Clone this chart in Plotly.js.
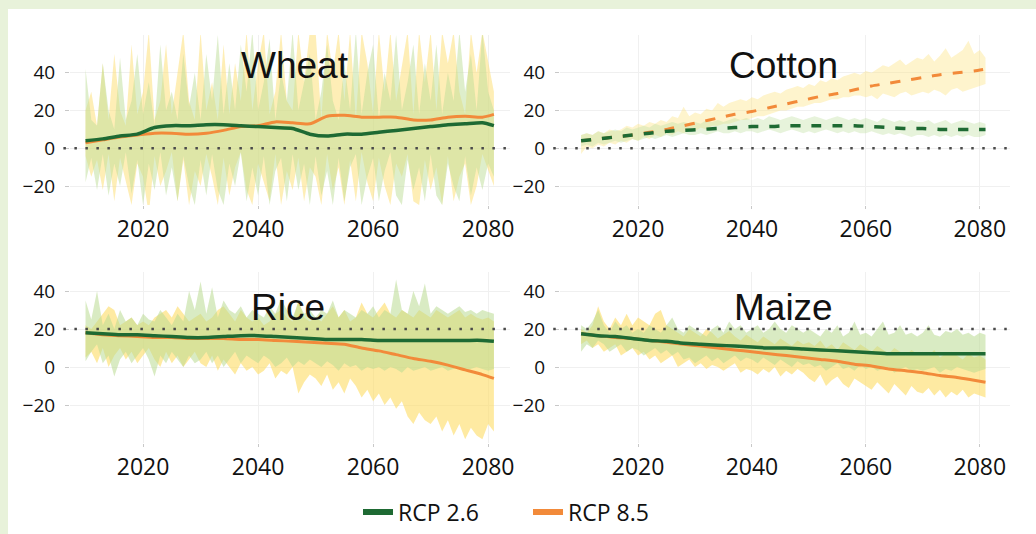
<!DOCTYPE html>
<html><head><meta charset="utf-8">
<script src="https://cdn.plot.ly/plotly-3.0.1.min.js"></script>
<style>html,body{margin:0;padding:0;background:#e8f2da;}#chart{width:1036px;height:534px;}</style>
</head><body><div id="chart"></div>
<script>
// ---- data ----
const years = [];
for (let y = 2010; y <= 2081; y++) years.push(y);
const meanYears = [2010,2013,2016,2019,2022,2025,2028,2031,2034,2037,2040,2043,2046,2049,2052,2055,2058,2061,2064,2067,2070,2073,2076,2079,2081];
const crops = ["Wheat","Cotton","Rice","Maize"];
const scenarios = ["RCP 2.6","RCP 8.5"];
const xTicks = [2020,2040,2060,2080];
const yTicks = [-20,0,20,40];
const refLine = [0,0,20,20];

// Wheat
const wheatMean26 = [4,5,6.5,7.5,11,12,12,12.5,12.5,12,11.5,11,10.5,7.5,6.5,7.5,7.5,8.5,9.5,10.5,11.5,12.5,13,13.5,12];
const wheatMean85 = [3,4.5,6,7,8,8,7.5,8,9.5,11.5,12,14,13.5,13,17,17.5,16.5,16.5,16.5,15,15,16.5,17,16.5,18];
const wheatUp26 = [42,15,12,45,20,10,48,15,25,50, 18,35,12,55,20,30,15,50,22,40, 15,50,25,60,18,45,20,55,30,62, 20,35,58,15,40,25,62,20,35,50, 15,30,55,25,15,45,20,62,18,40, 55,15,40,25,60,20,35,55,18,45, 25,55,18,40,25,62,30,50,20,62, 30,20];
const wheatLo26 = [-18,-5,-22,-3,-25,-8,-20,-2,-24,-6, -30,-8,-22,-2,-25,-10,-28,-4,-20,-30, -6,-25,-3,-22,-30,-8,-20,-2,-28,-10, -25,-4,-30,-12,-5,-28,-3,-22,-8,-30, -4,-25,-12,-30,-5,-28,-10,-3,-30,-15, -5,-28,-12,-2,-25,-30,-6,-22,-10,-28, -3,-25,-30,-8,-20,-28,-4,-25,-10,-22, -8,-15];
const wheatUp85 = [20,30,12,45,15,50,20,12,55,18, 30,62,15,25,55,18,40,62,25,15, 62,20,35,15,55,18,45,25,62,20, 45,62,18,30,62,25,20,62,35,62, 62,15,62,40,62,25,62,15,62,45, 18,62,30,62,25,45,62,18,62,35, 62,20,62,45,62,30,18,62,40,62, 45,30];
const wheatLo85 = [-4,-15,-6,-22,-3,-28,-5,-18,-30,-8, -15,-35,-4,-20,-12,-2,-28,-6,-30,-12, -20,-3,-15,-30,-5,-25,-10,-2,-22,-30, -8,-18,-28,-3,-30,-12,-22,-5,-28,-10, -15,-30,-3,-22,-10,-30,-6,-28,-2,-18, -28,-5,-20,-30,-8,-15,-3,-28,-30,-6, -22,-10,-30,-4,-28,-15,-8,-30,-20,-3, -12,-20];

// Cotton
const cottonMean26 = [4,5,6,7,8,9,9.5,10,10.5,11,11.5,11.5,12,12,12,12,12,11.5,11,10.5,10.5,10,10,10,10];
const cottonMean85 = [4,5,6,7,8.5,10,12,14,16,18,19.5,21.5,23.5,25.5,27.5,29,31,33,34.5,36,37.5,39,40,41,42];
const cottonUp26 = [7,8,7,9,8,9,10,9,11,10, 11,12,11,13,12,13,14,13,14,13, 14,13,15,14,15,14,15,16,15,16, 15,16,15,17,16,15,16,17,16,15, 16,17,16,15,16,17,16,15,16,15, 16,15,14,16,15,14,15,14,15,14, 14,15,13,14,15,13,14,15,14,13, 14,13];
const cottonLo26 = [1,2,1,3,2,3,4,3,4,5, 4,5,6,5,6,7,6,7,8,7, 7,8,7,8,9,8,8,9,8,9, 9,8,9,10,9,8,9,10,9,8, 9,8,9,10,9,8,9,8,9,8, 8,9,8,7,8,7,8,7,6,7, 7,6,7,6,7,6,7,6,7,6, 6,7];
const cottonUp85 = [7,8,7,9,8,10,9,10,12,11, 13,12,14,13,15,14,17,16,22,17, 19,18,21,20,24,22,24,25,26,25, 27,26,28,29,30,29,31,32,33,32, 34,33,36,35,37,36,38,39,40,39, 41,40,42,44,43,45,47,44,46,48, 47,50,46,49,53,48,50,52,57,50, 52,48];
const cottonLo85 = [-3,1,0,2,1,3,2,4,3,5, 4,6,5,7,6,8,7,9,8,10, 9,11,10,12,12,13,13,14,15,15, 16,17,17,18,19,20,20,21,22,22, 23,24,24,25,26,26,27,27,28,28, 27,28,26,29,28,27,29,30,28,29, 30,29,31,30,28,31,32,30,31,32, 33,34];

// Rice
const riceMean26 = [18,17.5,17,17,16.5,16,15.5,15.5,16,16.5,16.5,16,15.5,15,14.5,14.5,14.5,14,14,14,14,14,14,14,13.5];
const riceMean85 = [18,17,16.5,16,15.5,15.5,15,15,15,14.5,14.5,14,13.5,13,12.5,12,10,8.5,6.5,4.5,3,1,-1.5,-4,-6];
const riceUp26 = [35,25,40,22,28,20,30,24,26,22, 28,25,24,30,26,22,28,24,40,30, 45,28,42,26,35,30,28,32,26,30, 28,26,32,28,36,30,26,34,28,30, 26,30,28,35,26,30,28,26,30,28, 32,26,30,28,46,30,28,40,32,44, 28,32,30,28,30,32,29,30,28,30, 29,28];
const riceLo26 = [3,8,12,2,6,-5,4,8,2,6, 10,4,-5,6,2,8,4,0,6,2, 4,8,2,6,0,4,8,2,6,4, 2,6,4,0,2,5,0,3,1,4, 2,0,3,1,-2,2,0,1,-2,0, -1,0,-2,0,-1,-3,0,-2,-1,0, -2,-1,0,-2,-1,0,-2,-1,0,-1, -2,-1];
const riceUp85 = [22,20,24,28,32,30,22,24,26,22, 24,22,26,28,30,26,32,28,24,26, 28,24,26,30,32,28,24,30,26,24, 26,22,24,28,30,26,24,35,26,24, 26,24,28,32,26,30,24,26,34,28, 26,30,34,28,26,30,28,26,30,28, 26,30,28,26,28,30,26,28,26,25, 26,24];
const riceLo85 = [5,8,2,10,0,6,10,4,8,2, 6,10,4,0,8,2,6,0,4,8, 2,0,6,-2,4,0,-4,2,-2,0, -4,-2,2,-6,-2,-4,0,-14,-8,-4, -6,-10,-4,-12,-8,-14,-6,-10,-16,-12, -18,-14,-20,-16,-22,-18,-26,-30,-24,-28, -30,-26,-34,-28,-36,-30,-38,-32,-36,-38, -30,-34];

// Maize
const maizeMean26 = [17.5,16.5,16,15,14,13.5,12.5,12,11.5,11,10.5,10,10,9.5,9,8.5,8,7.5,7,7,7,7,7,7,7];
const maizeMean85 = [17.5,16.5,15.5,15,14,13,12,11,10,9,8,7,6,5,4,3,1.5,0.5,-1,-2,-3,-4.5,-5.5,-7,-8];
const maizeUp26 = [22,20,24,30,22,18,24,20,22,18, 20,18,22,20,18,22,26,20,18,22, 20,18,16,20,22,18,24,20,22,18, 20,22,18,20,24,20,18,22,20,18, 20,18,16,20,18,22,16,18,24,17, 18,16,20,24,17,18,22,17,18,16, 18,22,17,16,19,18,20,17,18,16, 18,17];
const maizeLo26 = [8,12,10,14,12,8,10,12,8,10, 9,6,8,10,7,9,6,8,4,5, 2,4,6,3,5,2,4,6,3,5, 4,2,5,3,1,4,2,0,3,1, 2,0,1,-2,0,2,-1,0,-2,1, -1,0,-2,-1,0,-3,-1,0,-2,-1, -2,-1,0,-3,-1,-2,0,-1,-2,-3, -2,-1];
const maizeUp85 = [20,18,22,32,24,20,26,22,28,22, 26,24,22,28,30,22,20,18,16,20, 18,16,20,18,15,17,19,16,14,17, 15,13,16,14,12,15,13,11,14,12, 13,11,14,10,12,9,13,11,9,12, 10,8,11,9,7,10,8,6,9,7, 8,6,9,5,7,8,6,4,7,5, 6,4];
const maizeLo85 = [12,14,10,12,8,10,12,6,8,10, 6,8,4,6,2,4,6,0,2,4, 0,2,-1,1,0,-2,0,2,-3,-1, -2,-4,-1,-3,0,-5,-2,-4,-1,-3, -6,-8,-4,-10,-7,-5,-9,-11,-6,-8, -10,-12,-8,-11,-14,-9,-12,-15,-10,-13, -14,-11,-15,-12,-16,-13,-15,-12,-16,-14, -15,-16];

const panels = [
  {name:"Wheat", m26:wheatMean26, m85:wheatMean85, u26:wheatUp26, l26:wheatLo26, u85:wheatUp85, l85:wheatLo85, dash:"solid"},
  {name:"Cotton", m26:cottonMean26, m85:cottonMean85, u26:cottonUp26, l26:cottonLo26, u85:cottonUp85, l85:cottonLo85, dash:"10px,11px"},
  {name:"Rice", m26:riceMean26, m85:riceMean85, u26:riceUp26, l26:riceLo26, u85:riceUp85, l85:riceLo85, dash:"solid"},
  {name:"Maize", m26:maizeMean26, m85:maizeMean85, u26:maizeUp26, l26:maizeLo26, u85:maizeUp85, l85:maizeLo85, dash:"solid"}
];

// ---- styles ----
const green = "#1e6a33", orange = "#f28a3a";
const bandGreen = ["rgba(190,222,152,0.5)","rgba(196,224,166,0.4)","rgba(186,219,146,0.55)","rgba(186,219,146,0.55)"];
const bandYellow = ["rgba(253,222,110,0.5)","rgba(253,228,130,0.4)","rgba(253,220,100,0.6)","rgba(253,220,100,0.6)"];

const traces = [];
panels.forEach((p, i) => {
  const xa = i === 0 ? "x" : "x" + (i + 1);
  const ya = i === 0 ? "y" : "y" + (i + 1);
  traces.push({x: years, y: p.l85, xaxis: xa, yaxis: ya, mode: "lines", line: {width: 0}, showlegend: false, hoverinfo: "skip"});
  traces.push({x: years, y: p.u85, xaxis: xa, yaxis: ya, mode: "lines", line: {width: 0}, fill: "tonexty", fillcolor: bandYellow[i], showlegend: false, hoverinfo: "skip"});
  traces.push({x: years, y: p.l26, xaxis: xa, yaxis: ya, mode: "lines", line: {width: 0}, showlegend: false, hoverinfo: "skip"});
  traces.push({x: years, y: p.u26, xaxis: xa, yaxis: ya, mode: "lines", line: {width: 0}, fill: "tonexty", fillcolor: bandGreen[i], showlegend: false, hoverinfo: "skip"});
  traces.push({x: meanYears, y: p.m85, xaxis: xa, yaxis: ya, mode: "lines", line: {color: orange, width: 3, dash: p.dash, shape: "spline", smoothing: 0.6}, showlegend: false});
  traces.push({x: meanYears, y: p.m26, xaxis: xa, yaxis: ya, mode: "lines", line: {color: green, width: 3.5, dash: p.dash, shape: "spline", smoothing: 0.6}, showlegend: false});
});
traces.push({x: [null], y: [null], mode: "lines", name: scenarios[0], line: {color: green, width: 6}});
traces.push({x: [null], y: [null], mode: "lines", name: scenarios[1], line: {color: orange, width: 6}});

const W = 1036, H = 534;
const xDomL = [70 / W, 510 / W], xDomR = [560 / W, 1010 / W];
const yDomT = [1 - 205 / H, 1 - 35 / H], yDomB = [1 - 443 / H, 1 - 272 / H];
const xRangeL = [2007.3, 2083.8], xRangeR = [2006.3, 2085.3];

function xAxis(dom, rng, anchor) {
  return {domain: dom, range: rng, anchor: anchor, tickvals: xTicks, showgrid: true, gridcolor: "#f0f0f0", zeroline: false,
    ticks: "outside", ticklen: 3, tickcolor: "#c8c8c8", showline: false, fixedrange: true,
    tickfont: {family: "Open Sans", size: 23, color: "#111"}};
}
function yAxis(dom, rng, anchor) {
  return {domain: dom, range: rng, anchor: anchor, tickvals: yTicks, showgrid: true, gridcolor: "#f0f0f0", zeroline: false,
    ticks: "outside", ticklen: 4, tickcolor: "#c8c8c8", showline: false, fixedrange: true, ticklabelstandoff: 6,
    tickfont: {family: "Open Sans", size: 19, color: "#111"}};
}

const titlePos = [[295, 66], [783, 66], [288, 307], [783, 307]];
const annotations = crops.map((c, i) => ({
  text: c, xref: "paper", yref: "paper", x: titlePos[i][0] / W, y: 1 - titlePos[i][1] / H,
  xanchor: "center", yanchor: "middle", showarrow: false,
  font: {family: "Liberation Sans, Arial", size: 37, color: "#111"}
}));

const shapes = [
  {type: "rect", xref: "paper", yref: "paper", x0: 8 / W, x1: 1, y0: 0, y1: 1 - 9 / H, fillcolor: "#ffffff", line: {width: 0}, layer: "below"}
];
refLine.forEach((v, i) => {
  const xa = i === 0 ? "x" : "x" + (i + 1);
  const ya = i === 0 ? "y" : "y" + (i + 1);
  shapes.push({type: "line", xref: xa + " domain", yref: ya, x0: -0.015, x1: 1, y0: v, y1: v,
    line: {color: "#4a4a4a", width: 2.5, dash: "2.5px,8.5px"}});
});

const layout = {
  width: W, height: H, margin: {l: 0, r: 0, t: 0, b: 0},
  paper_bgcolor: "#e8f2da", plot_bgcolor: "rgba(0,0,0,0)",
  showlegend: true,
  legend: {orientation: "h", traceorder: "normal", x: 358 / W, xanchor: "left", y: 1 - 512 / H, yanchor: "middle",
    entrywidth: 125, entrywidthmode: "pixels",
    font: {family: "Open Sans", size: 23, color: "#111"}, bgcolor: "rgba(0,0,0,0)", itemwidth: 30},
  xaxis: xAxis(xDomL, xRangeL, "y"),
  yaxis: yAxis(yDomT, [-30, 60], "x"),
  xaxis2: xAxis(xDomR, xRangeR, "y2"),
  yaxis2: yAxis(yDomT, [-30, 60], "x2"),
  xaxis3: xAxis(xDomL, xRangeL, "y3"),
  yaxis3: yAxis(yDomB, [-40, 50], "x3"),
  xaxis4: xAxis(xDomR, xRangeR, "y4"),
  yaxis4: yAxis(yDomB, [-40, 50], "x4"),
  annotations: annotations,
  shapes: shapes
};

Plotly.newPlot("chart", traces, layout, {displayModeBar: false, staticPlot: true});
</script>
</body></html>
